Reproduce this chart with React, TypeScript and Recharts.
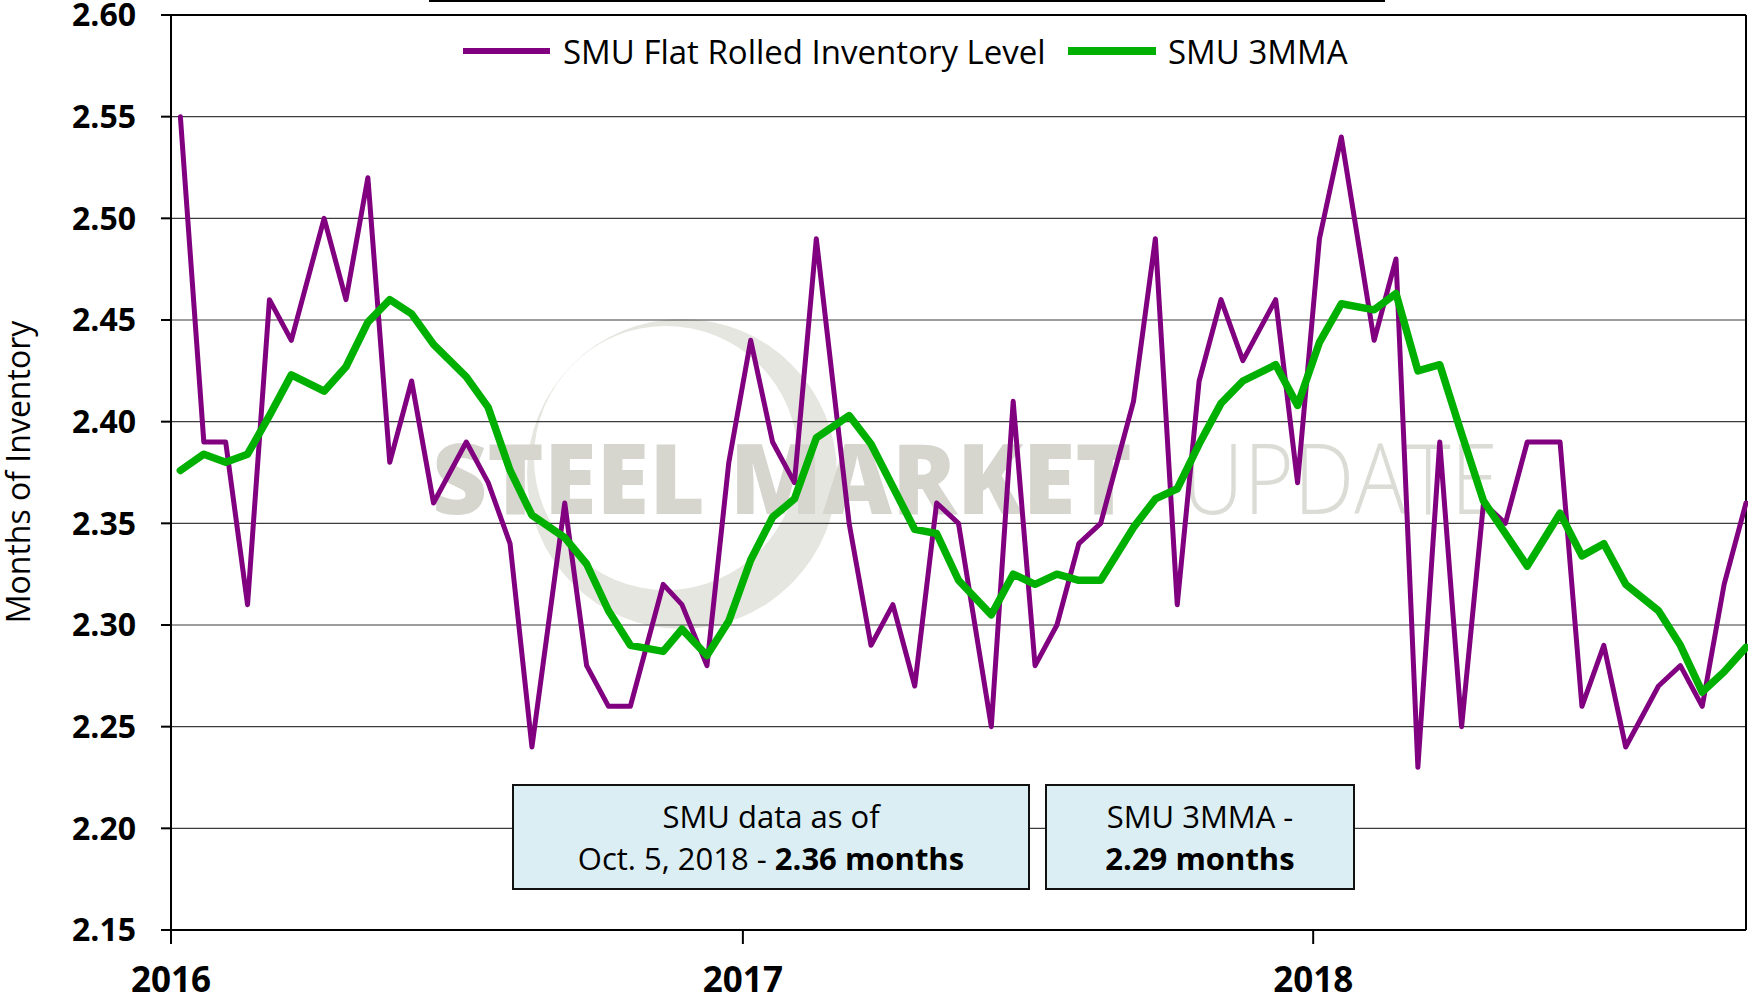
import { LineChart, Line, XAxis, YAxis, CartesianGrid, ReferenceLine } from 'recharts';

// SMU survey dates (twice a month)
const surveyDates = [
  '2016-01-07', '2016-01-22', '2016-02-05', '2016-02-19', '2016-03-04', '2016-03-18',
  '2016-04-08', '2016-04-22', '2016-05-06', '2016-05-20', '2016-06-03', '2016-06-17',
  '2016-07-08', '2016-07-22', '2016-08-05', '2016-08-19', '2016-09-09', '2016-09-23',
  '2016-10-07', '2016-10-21', '2016-11-11', '2016-11-23', '2016-12-09', '2016-12-23',
  '2017-01-06', '2017-01-20', '2017-02-03', '2017-02-17', '2017-03-10', '2017-03-24',
  '2017-04-07', '2017-04-21', '2017-05-05', '2017-05-19', '2017-06-09', '2017-06-23',
  '2017-07-07', '2017-07-21', '2017-08-04', '2017-08-18', '2017-09-08', '2017-09-22',
  '2017-10-06', '2017-10-20', '2017-11-03', '2017-11-17', '2017-12-08', '2017-12-22',
  '2018-01-05', '2018-01-19', '2018-02-09', '2018-02-23', '2018-03-09', '2018-03-23',
  '2018-04-06', '2018-04-20', '2018-05-04', '2018-05-18', '2018-06-08', '2018-06-22',
  '2018-07-06', '2018-07-20', '2018-08-10', '2018-08-24', '2018-09-07', '2018-09-21',
  '2018-10-05',
];

const inventoryLevel = [
  2.55, 2.39, 2.39, 2.31, 2.46, 2.44, 2.50, 2.46, 2.52, 2.38, 2.42, 2.36,
  2.39, 2.37, 2.34, 2.24, 2.36, 2.28, 2.26, 2.26, 2.32, 2.31, 2.28, 2.38,
  2.44, 2.39, 2.37, 2.49, 2.35, 2.29, 2.31, 2.27, 2.36, 2.35, 2.25, 2.41,
  2.28, 2.30, 2.34, 2.35, 2.41, 2.49, 2.31, 2.42, 2.46, 2.43, 2.46, 2.37,
  2.49, 2.54, 2.44, 2.48, 2.23, 2.39, 2.25, 2.36, 2.35, 2.39, 2.39, 2.26,
  2.29, 2.24, 2.27, 2.28, 2.26, 2.32, 2.36,
];

const threeMonthAvg = [
  2.376, 2.384, 2.380, 2.384, 2.403, 2.423, 2.415, 2.427, 2.449, 2.460, 2.453, 2.438,
  2.422, 2.407, 2.376, 2.354, 2.343, 2.330, 2.307, 2.290, 2.287, 2.298, 2.285, 2.302,
  2.332, 2.353, 2.362, 2.392, 2.403, 2.389, 2.368, 2.347, 2.345, 2.322, 2.305, 2.325,
  2.320, 2.325, 2.322, 2.322, 2.348, 2.362, 2.367, 2.389, 2.409, 2.420, 2.428, 2.408,
  2.439, 2.458, 2.455, 2.463, 2.425, 2.428, 2.394, 2.361, 2.345, 2.329, 2.355, 2.334,
  2.340, 2.320, 2.307, 2.290, 2.267, 2.277, 2.289,
];

const yearTicks = ['2016-01-01', '2017-01-01', '2018-01-01'];
const yTicks = [2.15, 2.2, 2.25, 2.3, 2.35, 2.4, 2.45, 2.5, 2.55, 2.6];

const toTime = (d: string) => {
  const [y, m, day] = d.split('-').map(Number);
  return Date.UTC(y, m - 1, day);
};

const data = surveyDates.map((d, i) => ({
  t: toTime(d),
  level: inventoryLevel[i],
  avg: threeMonthAvg[i],
}));

const xStart = toTime('2016-01-01');
const xEnd = toTime(surveyDates[surveyDates.length - 1]);

const FONT = "'Open Sans', sans-serif";
const PURPLE = '#800080';
const GREEN = '#00b000';

// watermark swoosh (decoration only)
const ring = (cx: number, cy: number, r: number) =>
  `M${cx - r},${cy} a${r},${r} 0 1,0 ${2 * r},0 a${r},${r} 0 1,0 ${-2 * r},0 Z`;

const boxStyle: React.CSSProperties = {
  position: 'absolute',
  top: 784,
  height: 106,
  boxSizing: 'border-box',
  border: '2px solid #111',
  background: '#dbeef3',
  fontSize: 31,
  lineHeight: '42px',
  textAlign: 'center',
  paddingTop: 9,
  color: '#000',
};

export default function App() {
  return (
    <div style={{ position: 'absolute', left: 0, top: 0, width: 1748, height: 1004, background: '#fff', fontFamily: FONT, overflow: 'hidden' }}>
      <svg width={1748} height={1004} style={{ position: 'absolute', left: 0, top: 0 }}>
        <path d={ring(682, 474, 155) + ring(666, 458, 132)} fill="#e6e6e0" fillRule="evenodd" />
        <text x={432} y={514} fontSize={98} fontWeight={800} fill="#d6d6cf" textLength={700} lengthAdjust="spacingAndGlyphs" fontFamily={FONT}>
          STEEL MARKET
        </text>
        <text x={1182} y={514} fontSize={98} fontWeight={300} fill="#dcdcd6" textLength={316} lengthAdjust="spacingAndGlyphs" fontFamily={FONT}>
          UPDATE
        </text>
      </svg>

      <div style={{ position: 'absolute', left: 0, top: 0 }}>
        <LineChart width={1748} height={1004} data={data} margin={{ top: 15, right: 2, bottom: 0, left: 0 }}>
          <CartesianGrid horizontal vertical={false} stroke="#3c3c3c" strokeWidth={1.2} />
          <XAxis
            dataKey="t"
            type="number"
            domain={[xStart, xEnd]}
            ticks={yearTicks.map(toTime)}
            interval={0}
            tickFormatter={(v: number) => String(new Date(v).getUTCFullYear())}
            height={74}
            tickSize={14}
            tickMargin={23}
            axisLine={{ stroke: '#000', strokeWidth: 2 }}
            tickLine={{ stroke: '#000', strokeWidth: 2 }}
            tick={{ fontSize: 35, fontWeight: 700, fill: '#000', fontFamily: FONT }}
          />
          <YAxis
            type="number"
            domain={[2.15, 2.6]}
            ticks={yTicks}
            interval={0}
            tickFormatter={(v: number) => v.toFixed(2)}
            width={171}
            tickSize={10}
            tickMargin={25}
            axisLine={{ stroke: '#000', strokeWidth: 2 }}
            tickLine={{ stroke: '#000', strokeWidth: 2 }}
            tick={{ fontSize: 32, fontWeight: 700, fill: '#000', fontFamily: FONT }}
          />
          <ReferenceLine y={2.6} stroke="#000" strokeWidth={2} />
          <ReferenceLine x={xEnd} stroke="#000" strokeWidth={2} />
          <Line
            type="linear"
            dataKey="level"
            stroke={PURPLE}
            strokeWidth={5}
            strokeLinejoin="round"
            strokeLinecap="round"
            dot={false}
            isAnimationActive={false}
          />
          <Line
            type="linear"
            dataKey="avg"
            stroke={GREEN}
            strokeWidth={7.5}
            strokeLinejoin="round"
            strokeLinecap="round"
            dot={false}
            isAnimationActive={false}
          />
        </LineChart>
      </div>

      <svg width={1748} height={1004} style={{ position: 'absolute', left: 0, top: 0, pointerEvents: 'none' }}>
        <line x1={429} y1={1} x2={1385} y2={1} stroke="#000" strokeWidth={2} />
        <line x1={463} y1={51} x2={550} y2={51} stroke={PURPLE} strokeWidth={6} />
        <text x={563} y={64} fontSize={33} fill="#000" fontFamily={FONT}>SMU Flat Rolled Inventory Level</text>
        <line x1={1068} y1={51} x2={1156} y2={51} stroke={GREEN} strokeWidth={8} />
        <text x={1168} y={64} fontSize={33} fill="#000" fontFamily={FONT}>SMU 3MMA</text>
        <text x={30} y={472} fontSize={32} fill="#000" fontFamily={FONT} textAnchor="middle" transform="rotate(-90 30 472)">
          Months of Inventory
        </text>
      </svg>

      <div style={{ ...boxStyle, left: 512, width: 518 }}>
        <div>SMU data as of</div>
        <div>
          Oct. 5, 2018 - <b>2.36 months</b>
        </div>
      </div>
      <div style={{ ...boxStyle, left: 1045, width: 310 }}>
        <div>SMU 3MMA -</div>
        <div>
          <b>2.29 months</b>
        </div>
      </div>
    </div>
  );
}
